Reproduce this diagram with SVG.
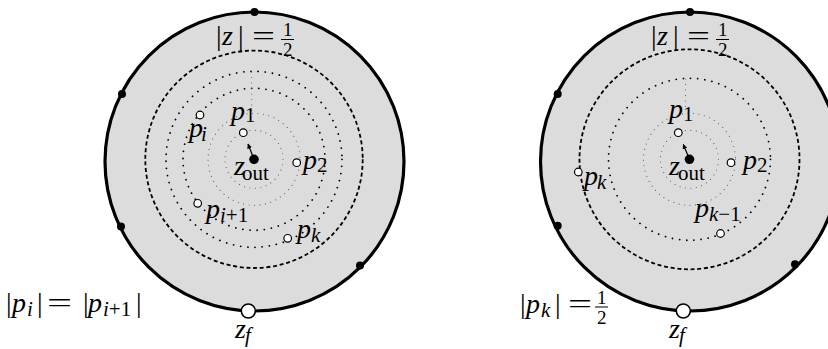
<svg xmlns="http://www.w3.org/2000/svg" width="828" height="349" viewBox="0 0 828 349">
<style>
.t{font-family:"Liberation Serif","Times New Roman",serif;font-size:28px;fill:#000}
.i{font-style:italic}
.s{font-size:21px}
.fr{font-size:19px}
.disk{fill:#dcdcdc;stroke:#000;stroke-width:3.2}
.dash{fill:none;stroke:#000;stroke-width:1.8;stroke-dasharray:4 2.7}
.dot{fill:none;stroke:#000;stroke-width:1.8;stroke-linecap:round;stroke-dasharray:0.01 7.2}
.gdot{fill:none;stroke:#555;stroke-width:1.1;stroke-linecap:round;stroke-dasharray:0.01 5.5}
.pt{fill:#fff;stroke:#000;stroke-width:1.2}
.zf{fill:#fff;stroke:#000;stroke-width:1.6}
.bd{fill:#000}
.fb{stroke:#000;stroke-width:1}
</style>
<defs>
<marker id="ah" viewBox="0 0 10 10" refX="9" refY="5" markerWidth="5" markerHeight="5" orient="auto" markerUnits="userSpaceOnUse">
<path d="M0,0 L10,5 L0,10 Z" fill="#000"/>
</marker>
</defs>

<g id="left-disk">
<circle class="disk" cx="254.5" cy="161.5" r="149.5"/>
<circle class="dash" cx="254" cy="159.3" r="108.7"/>
<circle class="dot" cx="254" cy="159.3" r="88"/>
<circle class="dot" cx="254" cy="159.3" r="71"/>
<circle class="gdot" cx="254" cy="159.3" r="46"/>
<circle class="gdot" cx="254" cy="159.3" r="29"/>
<line class="gdot" x1="251.7" y1="72" x2="251.7" y2="111"/>
<circle class="bd" cx="254.5" cy="12" r="4"/>
<circle class="bd" cx="122" cy="94" r="4"/>
<circle class="bd" cx="121" cy="226.5" r="4"/>
<circle class="bd" cx="360" cy="265.5" r="4"/>
<text class="t"><tspan x="216" y="45">|</tspan><tspan class="i" x="222" y="45">z</tspan><tspan x="238" y="45">|</tspan><tspan x="252" y="45" textLength="23" lengthAdjust="spacingAndGlyphs">=</tspan></text>
<text class="t fr"><tspan x="283" y="36">1</tspan><tspan x="283" y="56">2</tspan></text>
<line class="fb" x1="281" y1="39.5" x2="294" y2="39.5"/>
</g>

<g id="left-zout">
<circle class="bd" cx="254" cy="159.3" r="4.8"/>
<text class="t"><tspan class="i" x="234" y="175">z</tspan><tspan class="s" x="242" y="180">out</tspan></text>
</g>
<g id="left-p1">
<circle class="pt" cx="243.3" cy="132.7" r="3.8"/>
<text class="t"><tspan class="i" x="231" y="120">p</tspan><tspan class="s" x="245" y="122">1</tspan></text>
</g>
<g id="left-p2">
<circle class="pt" cx="296.7" cy="162.7" r="3.8"/>
<text class="t"><tspan class="i" x="303" y="169">p</tspan><tspan class="s" x="317" y="172">2</tspan></text>
</g>
<g id="left-pi">
<circle class="pt" cx="200" cy="115" r="3.8"/>
<text class="t"><tspan class="i" x="189" y="137">p</tspan><tspan class="s i" x="201" y="141">i</tspan></text>
</g>
<g id="left-pi1">
<circle class="pt" cx="197.7" cy="203.3" r="3.8"/>
<text class="t"><tspan class="i" x="206" y="218">p</tspan><tspan class="s i" x="220" y="222">i</tspan><tspan class="s">+1</tspan></text>
</g>
<g id="left-pk">
<circle class="pt" cx="287.7" cy="238.3" r="3.8"/>
<text class="t"><tspan class="i" x="297" y="238">p</tspan><tspan class="s i" x="311" y="242">k</tspan></text>
</g>
<g id="left-zf">
<circle class="zf" cx="248.3" cy="311" r="7"/>
<text class="t"><tspan class="i" x="235" y="338">z</tspan><tspan class="s i" x="245" y="342">f</tspan></text>
</g>
<g id="left-label">
<text class="t"><tspan x="6" y="312">|</tspan><tspan class="i" x="12" y="312">p</tspan><tspan class="s i" x="27" y="316">i</tspan><tspan x="37" y="312">|</tspan><tspan x="47" y="312" textLength="25" lengthAdjust="spacingAndGlyphs">=</tspan><tspan x="83" y="312">|</tspan><tspan class="i" x="88" y="312">p</tspan><tspan class="s i" x="103" y="316">i</tspan><tspan class="s">+1</tspan><tspan x="136" y="312">|</tspan></text>
</g>

<g id="right-disk">
<circle class="disk" cx="690" cy="161.5" r="149.5"/>
<circle class="dash" cx="689.5" cy="159.3" r="110"/>
<circle class="dot" cx="689.5" cy="159.3" r="81"/>
<circle class="gdot" cx="689.5" cy="159.3" r="46"/>
<circle class="gdot" cx="689.5" cy="159.3" r="29"/>
<line class="gdot" x1="685.5" y1="79" x2="685.5" y2="111"/>
<circle class="bd" cx="690" cy="12" r="4"/>
<circle class="bd" cx="557.7" cy="94" r="4"/>
<circle class="bd" cx="557.7" cy="225.7" r="4"/>
<circle class="bd" cx="795" cy="264.3" r="4"/>
<text class="t"><tspan x="651" y="45">|</tspan><tspan class="i" x="657" y="45">z</tspan><tspan x="673" y="45">|</tspan><tspan x="687" y="45" textLength="23" lengthAdjust="spacingAndGlyphs">=</tspan></text>
<text class="t fr"><tspan x="718" y="36">1</tspan><tspan x="718" y="56">2</tspan></text>
<line class="fb" x1="716" y1="39.5" x2="729" y2="39.5"/>
</g>

<g id="right-zout">
<circle class="bd" cx="689.5" cy="159.3" r="4.8"/>
<text class="t"><tspan class="i" x="669" y="175">z</tspan><tspan class="s" x="678" y="180">out</tspan></text>
</g>
<g id="right-p1">
<circle class="pt" cx="678.3" cy="132.7" r="3.8"/>
<text class="t"><tspan class="i" x="669" y="118">p</tspan><tspan class="s" x="683" y="121">1</tspan></text>
</g>
<g id="right-p2">
<circle class="pt" cx="731" cy="162.7" r="3.8"/>
<text class="t"><tspan class="i" x="743" y="169">p</tspan><tspan class="s" x="757" y="172">2</tspan></text>
</g>
<g id="right-pk1">
<circle class="pt" cx="720.5" cy="233.5" r="3.8"/>
<text class="t"><tspan class="i" x="695" y="217">p</tspan><tspan class="s i" x="709" y="221">k</tspan><tspan class="s">−1</tspan></text>
</g>
<g id="right-pk">
<circle class="pt" cx="578.3" cy="172" r="3.8"/>
<text class="t"><tspan class="i" x="584" y="185">p</tspan><tspan class="s i" x="597" y="189">k</tspan></text>
</g>
<g id="right-zf">
<circle class="zf" cx="683.3" cy="311" r="7"/>
<text class="t"><tspan class="i" x="669" y="338">z</tspan><tspan class="s i" x="679" y="342">f</tspan></text>
</g>
<g id="right-label">
<text class="t"><tspan x="520" y="313">|</tspan><tspan class="i" x="526" y="313">p</tspan><tspan class="s i" x="541" y="317">k</tspan><tspan x="555" y="313">|</tspan><tspan x="568" y="313" textLength="24" lengthAdjust="spacingAndGlyphs">=</tspan></text>
<text class="t fr"><tspan x="597" y="303.5">1</tspan><tspan x="597" y="324">2</tspan></text>
<line class="fb" x1="595" y1="307" x2="608" y2="307"/>
</g>

<g id="connectors">
<line x1="254" y1="159.3" x2="248" y2="144" stroke="#000" stroke-width="1.2" marker-end="url(#ah)"/>
<line x1="689.5" y1="159.3" x2="683.3" y2="144.5" stroke="#000" stroke-width="1.2" marker-end="url(#ah)"/>
</g>
</svg>
